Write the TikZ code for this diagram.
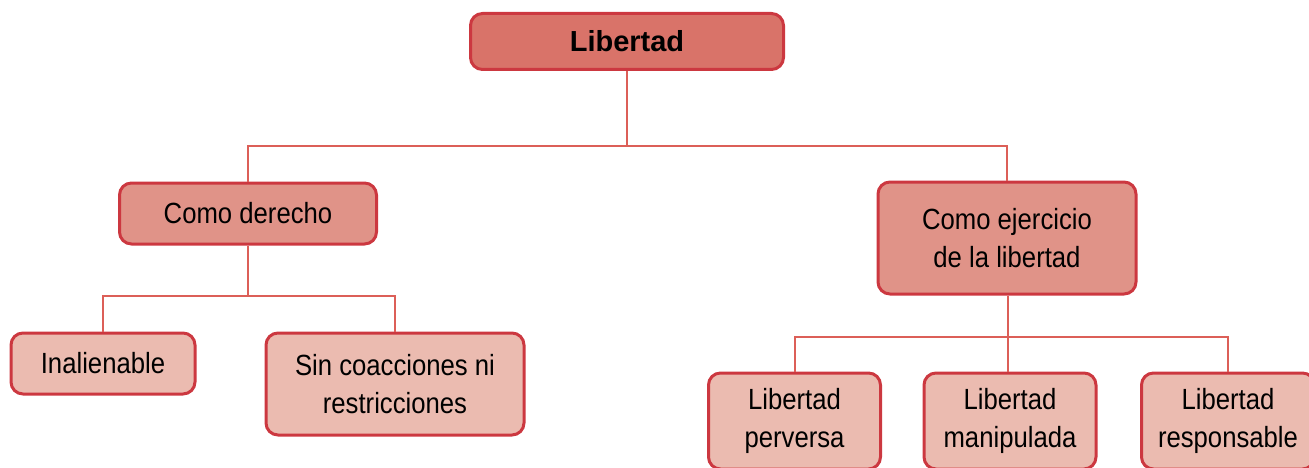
\documentclass[tikz,border=0pt]{standalone}
\usepackage{fontspec}
\setmainfont{Liberation Sans}[FakeStretch=0.88]
\newfontfamily\headfont{Liberation Sans}
\definecolor{bordercol}{RGB}{204,56,64}
\definecolor{linecol}{RGB}{220,95,88}
\definecolor{topfill}{RGB}{217,115,105}
\definecolor{midfill}{RGB}{224,147,136}
\definecolor{lowfill}{RGB}{235,187,176}
\begin{document}
\begin{tikzpicture}[x=1pt,y=-1pt,
  box/.style={draw=bordercol, line width=3pt, rounded corners=12pt, align=center,
    inner sep=0pt, text=black, font=\fontsize{29.2}{37.5}\selectfont},
  topbox/.style={box, fill=topfill, font=\headfont\bfseries\fontsize{29}{35}\selectfont},
  midbox/.style={box, fill=midfill},
  lowbox/.style={box, fill=lowfill},
  conn/.style={draw=linecol, line width=2pt}]
\clip (0,0) rectangle (1309,468);
\useasboundingbox (0,0) rectangle (1309,468);
% nodes
\node[topbox, minimum width=313pt, minimum height=56pt] (lib) at (627,41.5) {\raisebox{-2pt}{Libertad}};
\node[midbox, minimum width=257pt, minimum height=61pt] (der) at (248,213.5) {Como derecho};
\node[midbox, minimum width=258pt, minimum height=112pt] (eje) at (1007,238) {Como ejercicio\\de la libertad};
\node[lowbox, minimum width=184pt, minimum height=61pt] (ina) at (103,363.5) {Inalienable};
\node[lowbox, minimum width=258pt, minimum height=102pt] (sin) at (395,384) {Sin coacciones ni\\restricciones};
\node[lowbox, minimum width=172pt, minimum height=96pt] (per) at (794.5,421) {Libertad\\perversa};
\node[lowbox, minimum width=172pt, minimum height=96pt] (man) at (1010,421) {Libertad\\manipulada};
\node[lowbox, minimum width=173pt, minimum height=96pt] (res) at (1228,421) {Libertad\\responsable};
% junctions
\coordinate (j1) at (627,146);
\coordinate (j2) at (248,296);
\coordinate (j3) at (1008,337);
% connectors
\draw[conn] (lib.south) -- (j1);
\draw[conn] (der.north) |- (j1) -| (eje.north);
\draw[conn] (der.south) -- (j2);
\draw[conn] (ina.north) |- (j2) -| (sin.north);
\draw[conn] (eje.south -| j3) -- (j3);
\draw[conn] (per.north) |- (j3) -| (res.north);
\draw[conn] (j3) -- (j3 |- man.north);
\end{tikzpicture}
\end{document}
